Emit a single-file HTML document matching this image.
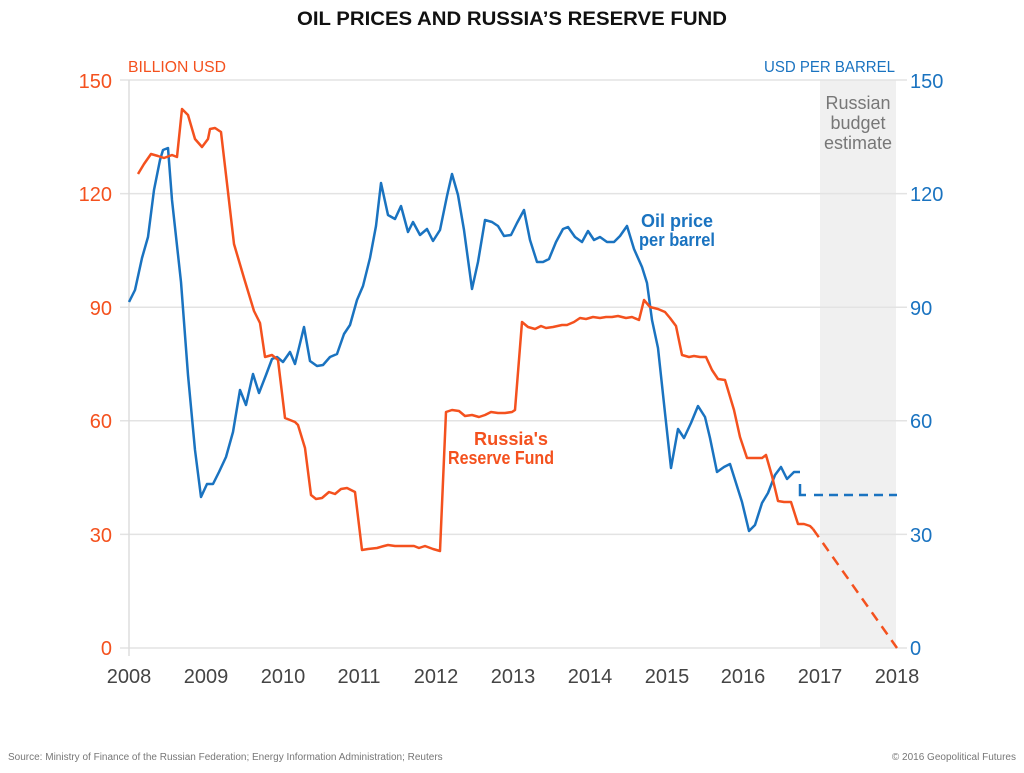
<!DOCTYPE html>
<html><head><meta charset="utf-8"><style>
body{margin:0;background:#fff;width:1024px;height:768px;overflow:hidden;font-family:"Liberation Sans",sans-serif}
</style></head><body>
<svg width="1024" height="768" xmlns="http://www.w3.org/2000/svg" font-family="Liberation Sans, sans-serif">
<rect x="820" y="80" width="76" height="568" fill="#f0f0f0"/>
<g stroke="#e3e3e3" stroke-width="1.5">
<line x1="120" y1="80" x2="907" y2="80"/><line x1="120" y1="193.6" x2="907" y2="193.6"/><line x1="120" y1="307.2" x2="907" y2="307.2"/><line x1="120" y1="420.8" x2="907" y2="420.8"/><line x1="120" y1="534.4" x2="907" y2="534.4"/><line x1="120" y1="648" x2="907" y2="648"/>
</g>
<line x1="129" y1="80" x2="129" y2="656" stroke="#ddd" stroke-width="1.5"/>
<text x="512" y="25" text-anchor="middle" font-weight="bold" font-size="19" fill="#111" textLength="430" lengthAdjust="spacingAndGlyphs">OIL PRICES AND RUSSIA’S RESERVE FUND</text>
<text x="128" y="72" font-size="16" fill="#f4511e" textLength="98" lengthAdjust="spacingAndGlyphs">BILLION USD</text>
<text x="895" y="72" font-size="16" fill="#1a73c0" text-anchor="end" textLength="131" lengthAdjust="spacingAndGlyphs">USD PER BARREL</text>
<g font-size="20" fill="#f4511e" text-anchor="end">
<text x="112" y="88">150</text><text x="112" y="201">120</text><text x="112" y="315">90</text><text x="112" y="428">60</text><text x="112" y="542">30</text><text x="112" y="655">0</text></g>
<g font-size="20" fill="#1a73c0">
<text x="910" y="88">150</text><text x="910" y="201">120</text><text x="910" y="315">90</text><text x="910" y="428">60</text><text x="910" y="542">30</text><text x="910" y="655">0</text></g>
<g font-size="20" fill="#444" text-anchor="middle">
<text x="129" y="683">2008</text><text x="206" y="683">2009</text><text x="283" y="683">2010</text><text x="359" y="683">2011</text><text x="436" y="683">2012</text><text x="513" y="683">2013</text><text x="590" y="683">2014</text><text x="667" y="683">2015</text><text x="743" y="683">2016</text><text x="820" y="683">2017</text><text x="897" y="683">2018</text></g>
<g font-size="18" fill="#777" text-anchor="middle"><text x="858" y="109">Russian</text><text x="858" y="129">budget</text><text x="858" y="149">estimate</text></g>
<polyline fill="none" stroke="#1a73c0" stroke-width="2.5" stroke-linejoin="round" points="129,302 135,290 142,258 148,237 154,190 160,160 163,150 168,148 172,200 181,282 188,375 195,450 201,497 207,484 213,484 219,472 226,457 233,432 240,390 246,405 253,374 259,393 266,375 272,359 277,357 283,362 290,352 295,364 304,327 310,361 317,366 323,365 330,357 337,354 344,334 350,325 357,300 363,286 370,258 376,226 381,183 388,215 395,219 401,206 408,232 413,222 420,235 427,229 433,241 440,230 447,196 452,174 458,195 464,230 472,289 478,262 485,220 492,222 498,226 504,236 511,235 517,223 524,210 530,240 537,262 543,262 549,259 556,242 563,229 568,227 575,237 582,242 588,231 594,240 600,237 607,242 614,242 620,236 627,226 634,249 642,267 647,283 652,320 658,348 665,413 671,468 678,429 684,438 691,423 698,406 705,417 710,438 717,472 724,467 730,464 736,483 742,502 749,531 755,525 762,503 768,493 775,475 781,467 787,479 794,472 800,472"/>
<polyline fill="none" stroke="#1a73c0" stroke-width="2.5" points="800,484 800,495 806,495"/>
<line x1="814" y1="495" x2="897" y2="495" stroke="#1a73c0" stroke-width="2.5" stroke-dasharray="9,6"/>
<polyline fill="none" stroke="#f4511e" stroke-width="2.5" stroke-linejoin="round" points="138,174 144,164 151,154 158,156 164,158 172,155 177,157 182,109 188,115 195,139 202,147 208,139 210,129 215,128 221,132 228,192 234,244 244,278 254,311 260,323 265,357 272,355 278,360 285,418 295,422 298,425 305,448 311,495 316,499 322,498 329,492 335,494 341,489 347,488 355,492 362,550 368,549 377,548 384,546 388,545 395,546 404,546 409,546 414,546 419,548 425,546 433,549 440,551 446,412 452,410 459,411 465,416 472,415 479,417 485,415 491,412 498,413 505,413 512,412 515,410 522,322 528,327 535,329 541,326 546,328 553,327 562,325 567,325 574,322 580,318 586,319 593,317 600,318 606,317 612,317 618,316 626,318 632,317 639,320 644,300 650,307 658,309 665,312 670,318 676,326 682,355 689,357 694,356 700,357 706,357 712,370 718,379 725,380 734,410 740,437 747,458 755,458 762,458 766,455 772,476 778,501 784,502 791,502 798,524 804,524 810,526 813,529"/>
<line x1="813" y1="529" x2="897" y2="648" stroke="#f4511e" stroke-width="2.5" stroke-dasharray="10,7"/>
<g font-size="18" font-weight="bold" fill="#1a73c0" text-anchor="middle"><text x="677" y="227" textLength="72" lengthAdjust="spacingAndGlyphs">Oil price</text><text x="677" y="246" textLength="76" lengthAdjust="spacingAndGlyphs">per barrel</text></g>
<g font-size="18" font-weight="bold" fill="#f4511e" text-anchor="end"><text x="548" y="445" textLength="74" lengthAdjust="spacingAndGlyphs">Russia's</text><text x="554" y="464" textLength="106" lengthAdjust="spacingAndGlyphs">Reserve Fund</text></g>
<text x="8" y="760" font-size="10" fill="#777">Source: Ministry of Finance of the Russian Federation; Energy Information Administration; Reuters</text>
<text x="1016" y="760" font-size="10" fill="#777" text-anchor="end">© 2016 Geopolitical Futures</text>
</svg>
</body></html>
